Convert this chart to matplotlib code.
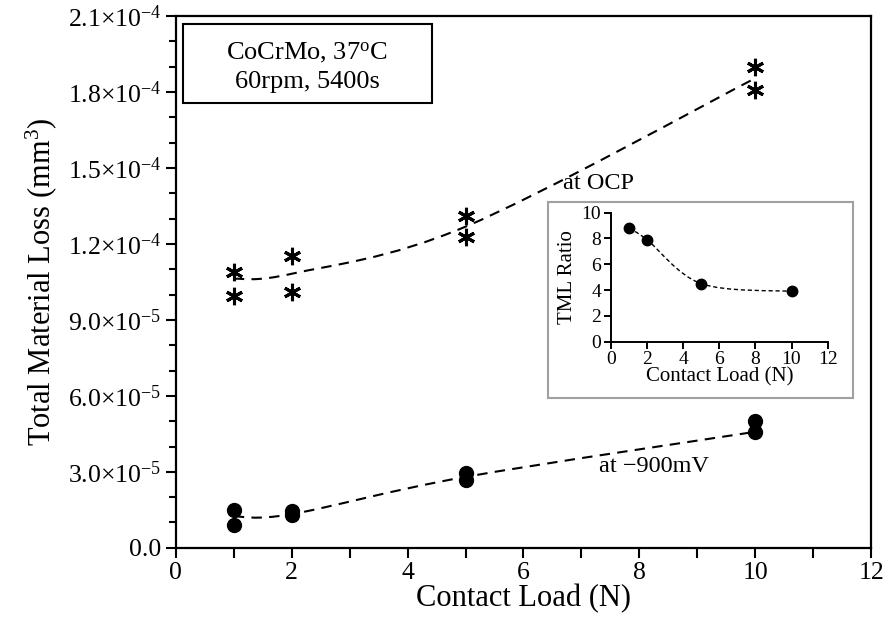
import matplotlib
matplotlib.use("Agg")
import matplotlib.pyplot as plt
import numpy as np
from matplotlib.patches import PathPatch, Rectangle
from matplotlib.path import Path
from matplotlib.ticker import MultipleLocator

plt.rcParams["font.family"] = ["Liberation Serif", "DejaVu Serif"]
plt.rcParams["mathtext.fontset"] = "custom"
plt.rcParams["mathtext.rm"] = "Liberation Serif"
plt.rcParams["mathtext.it"] = "Liberation Serif:italic"

# measured points (two repeats per load)
load = [1, 2, 5, 10]
ocp_a = [1.09e-4, 1.153e-4, 1.312e-4, 1.90e-4]
ocp_b = [0.996e-4, 1.009e-4, 1.229e-4, 1.808e-4]
cat_a = [1.50e-5, 1.45e-5, 2.95e-5, 4.99e-5]
cat_b = [0.91e-5, 1.30e-5, 2.68e-5, 4.57e-5]

# trend lines
ocp_trend = [1.062e-4, 1.082e-4, 1.268e-4, 1.854e-4]
cat_trend = [1.24e-5, 1.33e-5, 2.80e-5, 4.58e-5]

# inset: TML ratio
ratio = [8.8, 7.9, 4.5, 3.9]

y_ticks = [0.0, 3e-5, 6e-5, 9e-5, 1.2e-4, 1.5e-4, 1.8e-4, 2.1e-4]
y_labels = ["0.0", "3.0\u00d710$^{-5}$", "6.0\u00d710$^{-5}$", "9.0\u00d710$^{-5}$",
            "1.2\u00d710$^{-4}$", "1.5\u00d710$^{-4}$", "1.8\u00d710$^{-4}$",
            "2.1\u00d710$^{-4}$"]


def smooth_path(xs, ys):
    # Excel-style smoothed line: cubic Bezier segments through the points
    pts = np.column_stack([xs, ys]).astype(float)
    n = len(pts)
    verts = [pts[0]]
    codes = [Path.MOVETO]
    for i in range(n - 1):
        p0 = pts[max(i - 1, 0)]
        p1 = pts[i]
        p2 = pts[i + 1]
        p3 = pts[min(i + 2, n - 1)]
        c1 = p1 + (p2 - p0) / 6.0
        c2 = p2 - (p3 - p1) / 6.0
        verts += [c1, c2, p2]
        codes += [Path.CURVE4] * 3
    return Path(verts, codes)


fig = plt.figure(figsize=(8.88, 6.37), dpi=100)
ax = fig.add_axes([0.198, 0.140, 0.783, 0.835])

ax.add_patch(PathPatch(smooth_path(load, ocp_trend), fill=False, ec="black",
                       lw=1.5, ls=(0, (5, 3.5))))
ax.add_patch(PathPatch(smooth_path(load, cat_trend), fill=False, ec="black",
                       lw=1.5, ls=(0, (5, 3.5))))

for ys in (ocp_a, ocp_b):
    ax.plot(load, ys, ls="none", marker=(6, 2, 0), ms=12.5, mew=2.2, color="black")
for ys in (cat_a, cat_b):
    ax.plot(load, ys, ls="none", marker="o", ms=10, color="black")

ax.set_xlim(0, 12)
ax.set_ylim(0, 2.1e-4)
ax.xaxis.set_major_locator(MultipleLocator(2))
ax.xaxis.set_minor_locator(MultipleLocator(1))
ax.set_yticks(y_ticks)
ax.set_yticklabels(y_labels)
ax.yaxis.set_minor_locator(MultipleLocator(1e-5))
ax.tick_params(which="both", direction="out", width=1.5, labelsize=18.5,
               top=False, right=False)
ax.tick_params(which="major", length=7)
ax.tick_params(axis="x", which="minor", length=7)
ax.tick_params(axis="y", which="minor", length=5)
for s in ax.spines.values():
    s.set_linewidth(1.6)

ax.set_xlabel("Contact Load (N)", fontsize=22, labelpad=0)
ax.set_ylabel("Total Material Loss (mm$^3$)", fontsize=22, labelpad=6)

ax.text(7.3, 1.44e-4, "at OCP", fontsize=17.5, ha="center", va="center")
ax.text(8.25, 3.21e-5, "at \u2212900mV", fontsize=17.5, ha="center", va="center")

# condition box
fig.patches.append(Rectangle((0.206, 0.838), 0.280, 0.124, transform=fig.transFigure,
                             fill=True, fc="white", ec="black", lw=1.5, zorder=1))
fig.text(0.346, 0.918, "CoCrMo, 37$^{\\mathrm{o}}$C", fontsize=19, ha="center",
         va="center", zorder=2)
fig.text(0.346, 0.871, "60rpm, 5400s", fontsize=19, ha="center", va="center", zorder=2)

# inset frame and axes
fig.patches.append(Rectangle((0.617, 0.375), 0.344, 0.308, transform=fig.transFigure,
                             fc="white", ec="#a0a0a0", lw=1.5, zorder=1))
ins = fig.add_axes([0.688, 0.4636, 0.244, 0.2025])
ins.set_zorder(2)
ins.patch.set_alpha(0)
ins.add_patch(PathPatch(smooth_path(load, ratio), fill=False, ec="black",
                        lw=1.0, ls=(0, (3, 2))))
ins.plot(load, ratio, ls="none", marker="o", ms=7.5, color="black")
ins.set_xlim(0, 12)
ins.set_ylim(0, 10)
ins.xaxis.set_major_locator(MultipleLocator(2))
ins.yaxis.set_major_locator(MultipleLocator(2))
ins.spines["top"].set_visible(False)
ins.spines["right"].set_visible(False)
for s in ("left", "bottom"):
    ins.spines[s].set_linewidth(1.4)
ins.tick_params(direction="out", length=5, width=1.4, labelsize=14, pad=2)
ins.set_xlabel("Contact Load (N)", fontsize=15, labelpad=-1)
ins.set_ylabel("TML Ratio", fontsize=15, labelpad=3)

fig.savefig("out.png", dpi=100)
